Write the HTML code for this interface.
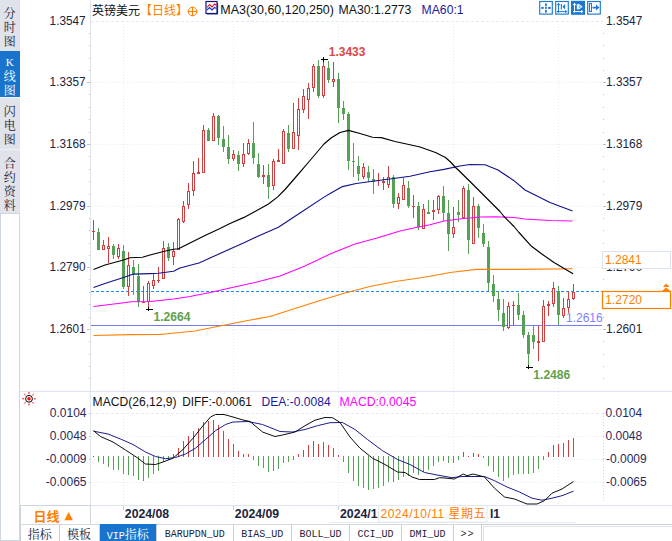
<!DOCTYPE html>
<html><head><meta charset="utf-8"><title>GBPUSD</title>
<style>
html,body{margin:0;padding:0;background:#fff;}
body{width:672px;height:541px;position:relative;overflow:hidden;font-family:"Liberation Sans","Noto Sans CJK SC",sans-serif;font-size:12px;color:#111;}
.abs{position:absolute;}
.side{position:absolute;left:0;width:20px;background:#e1e3ea;}
.sc{position:absolute;left:0;width:19.5px;text-align:center;font-family:"Liberation Serif","Noto Serif CJK SC",serif;font-size:12px;line-height:12px;height:12px;color:#1c2438;}
.tab{position:absolute;top:524px;height:17px;box-sizing:border-box;border-right:1px solid #c9ced8;border-top:1px solid #d5d9e0;text-align:center;line-height:22px;font-size:12px;color:#1c2438;font-family:"Liberation Mono","Noto Serif CJK SC",monospace;white-space:nowrap;overflow:hidden;}
.tab.m{font-size:10px;letter-spacing:0px;line-height:19px;}
</style></head><body>
<!-- sidebar -->
<div class="side" style="top:0;height:213px;"></div>
<div class="abs" style="left:0;top:213px;width:20px;height:328px;box-sizing:border-box;border:1px solid #cdd6e2;background:#fff;"></div>
<div class="abs" style="left:0;top:50.5px;width:20px;height:46px;background:#1874cd;"></div>
<div class="abs" style="left:0;top:149px;width:20px;height:1px;background:#f0f2f6;"></div>
<div class="abs" style="left:0;top:96.5px;width:20px;height:1px;background:#f0f2f6;"></div>
<div class="sc" style="top:8.3px;">分</div><div class="sc" style="top:21.8px;">时</div><div class="sc" style="top:35.6px;">图</div>
<div class="sc" style="top:56.3px;color:#fff;font-size:11px;">K</div><div class="sc" style="top:71.3px;color:#fff;">线</div><div class="sc" style="top:85.3px;color:#fff;">图</div>
<div class="sc" style="top:105.8px;">闪</div><div class="sc" style="top:120.1px;">电</div><div class="sc" style="top:133.9px;">图</div>
<div class="sc" style="top:158.1px;">合</div><div class="sc" style="top:172.1px;">约</div><div class="sc" style="top:186.0px;">资</div><div class="sc" style="top:199.7px;">料</div>

<!-- chart svg -->
<svg class="abs" style="left:0;top:0;" width="672" height="541" viewBox="0 0 672 541">
<line x1="91" y1="82.5" x2="603" y2="82.5" stroke="#e5ebf1" stroke-width="1" stroke-dasharray="1 2"/>
<line x1="91" y1="144.5" x2="603" y2="144.5" stroke="#e5ebf1" stroke-width="1" stroke-dasharray="1 2"/>
<line x1="91" y1="206.5" x2="603" y2="206.5" stroke="#e5ebf1" stroke-width="1" stroke-dasharray="1 2"/>
<line x1="91" y1="267.5" x2="603" y2="267.5" stroke="#e5ebf1" stroke-width="1" stroke-dasharray="1 2"/>
<line x1="91" y1="329.5" x2="603" y2="329.5" stroke="#e5ebf1" stroke-width="1" stroke-dasharray="1 2"/>
<line x1="91" y1="21.5" x2="603" y2="21.5" stroke="#e5ebf1" stroke-width="1" stroke-dasharray="3 2"/>
<line x1="123.5" y1="24" x2="123.5" y2="391" stroke="#e5ebf1" stroke-width="1" stroke-dasharray="1 2"/>
<line x1="123.5" y1="392" x2="123.5" y2="505" stroke="#e5ebf1" stroke-width="1" stroke-dasharray="1 2"/>
<line x1="123.5" y1="505" x2="123.5" y2="510" stroke="#c5cedb" stroke-width="1"/>
<line x1="233.5" y1="24" x2="233.5" y2="391" stroke="#e5ebf1" stroke-width="1" stroke-dasharray="1 2"/>
<line x1="233.5" y1="392" x2="233.5" y2="505" stroke="#e5ebf1" stroke-width="1" stroke-dasharray="1 2"/>
<line x1="233.5" y1="505" x2="233.5" y2="510" stroke="#c5cedb" stroke-width="1"/>
<line x1="338.5" y1="24" x2="338.5" y2="391" stroke="#e5ebf1" stroke-width="1" stroke-dasharray="1 2"/>
<line x1="338.5" y1="392" x2="338.5" y2="505" stroke="#e5ebf1" stroke-width="1" stroke-dasharray="1 2"/>
<line x1="338.5" y1="505" x2="338.5" y2="510" stroke="#c5cedb" stroke-width="1"/>
<line x1="453.5" y1="24" x2="453.5" y2="391" stroke="#e5ebf1" stroke-width="1" stroke-dasharray="1 2"/>
<line x1="453.5" y1="392" x2="453.5" y2="505" stroke="#e5ebf1" stroke-width="1" stroke-dasharray="1 2"/>
<line x1="453.5" y1="505" x2="453.5" y2="510" stroke="#c5cedb" stroke-width="1"/>
<line x1="558.5" y1="24" x2="558.5" y2="391" stroke="#e5ebf1" stroke-width="1" stroke-dasharray="1 2"/>
<line x1="558.5" y1="392" x2="558.5" y2="505" stroke="#e5ebf1" stroke-width="1" stroke-dasharray="1 2"/>
<line x1="91" y1="413.5" x2="603" y2="413.5" stroke="#e5ebf1" stroke-width="1" stroke-dasharray="3 2"/>
<line x1="91" y1="436.5" x2="603" y2="436.5" stroke="#e5ebf1" stroke-width="1" stroke-dasharray="1 2"/>
<line x1="91" y1="459.5" x2="603" y2="459.5" stroke="#e5ebf1" stroke-width="1" stroke-dasharray="1 2"/>
<line x1="91" y1="482.5" x2="603" y2="482.5" stroke="#e5ebf1" stroke-width="1" stroke-dasharray="1 2"/>
<line x1="90.5" y1="0" x2="90.5" y2="505" stroke="#dde4ee" stroke-width="1"/>
<line x1="603.5" y1="413" x2="603.5" y2="503" stroke="#cfd8e4" stroke-width="1" stroke-dasharray="1 2"/>
<line x1="20" y1="391.5" x2="672" y2="391.5" stroke="#dde4ee" stroke-width="1"/>
<line x1="20" y1="505.5" x2="672" y2="505.5" stroke="#dde4ee" stroke-width="1"/>
<line x1="330" y1="522.5" x2="576" y2="522.5" stroke="#e6ebf2" stroke-width="1"/>
<line x1="89" y1="33.5" x2="90" y2="33.5" stroke="#b8c2d0"/>
<line x1="603" y1="33.5" x2="604" y2="33.5" stroke="#b8c2d0"/>
<line x1="89" y1="45.5" x2="90" y2="45.5" stroke="#b8c2d0"/>
<line x1="603" y1="45.5" x2="604" y2="45.5" stroke="#b8c2d0"/>
<line x1="89" y1="58.5" x2="90" y2="58.5" stroke="#b8c2d0"/>
<line x1="603" y1="58.5" x2="604" y2="58.5" stroke="#b8c2d0"/>
<line x1="89" y1="70.5" x2="90" y2="70.5" stroke="#b8c2d0"/>
<line x1="603" y1="70.5" x2="604" y2="70.5" stroke="#b8c2d0"/>
<line x1="87" y1="82.5" x2="90" y2="82.5" stroke="#b8c2d0"/>
<line x1="603" y1="82.5" x2="606" y2="82.5" stroke="#b8c2d0"/>
<line x1="89" y1="94.5" x2="90" y2="94.5" stroke="#b8c2d0"/>
<line x1="603" y1="94.5" x2="604" y2="94.5" stroke="#b8c2d0"/>
<line x1="89" y1="107.5" x2="90" y2="107.5" stroke="#b8c2d0"/>
<line x1="603" y1="107.5" x2="604" y2="107.5" stroke="#b8c2d0"/>
<line x1="89" y1="119.5" x2="90" y2="119.5" stroke="#b8c2d0"/>
<line x1="603" y1="119.5" x2="604" y2="119.5" stroke="#b8c2d0"/>
<line x1="89" y1="132.5" x2="90" y2="132.5" stroke="#b8c2d0"/>
<line x1="603" y1="132.5" x2="604" y2="132.5" stroke="#b8c2d0"/>
<line x1="87" y1="144.5" x2="90" y2="144.5" stroke="#b8c2d0"/>
<line x1="603" y1="144.5" x2="606" y2="144.5" stroke="#b8c2d0"/>
<line x1="89" y1="156.5" x2="90" y2="156.5" stroke="#b8c2d0"/>
<line x1="603" y1="156.5" x2="604" y2="156.5" stroke="#b8c2d0"/>
<line x1="89" y1="169.5" x2="90" y2="169.5" stroke="#b8c2d0"/>
<line x1="603" y1="169.5" x2="604" y2="169.5" stroke="#b8c2d0"/>
<line x1="89" y1="181.5" x2="90" y2="181.5" stroke="#b8c2d0"/>
<line x1="603" y1="181.5" x2="604" y2="181.5" stroke="#b8c2d0"/>
<line x1="89" y1="194.5" x2="90" y2="194.5" stroke="#b8c2d0"/>
<line x1="603" y1="194.5" x2="604" y2="194.5" stroke="#b8c2d0"/>
<line x1="87" y1="206.5" x2="90" y2="206.5" stroke="#b8c2d0"/>
<line x1="603" y1="206.5" x2="606" y2="206.5" stroke="#b8c2d0"/>
<line x1="89" y1="218.5" x2="90" y2="218.5" stroke="#b8c2d0"/>
<line x1="603" y1="218.5" x2="604" y2="218.5" stroke="#b8c2d0"/>
<line x1="89" y1="230.5" x2="90" y2="230.5" stroke="#b8c2d0"/>
<line x1="603" y1="230.5" x2="604" y2="230.5" stroke="#b8c2d0"/>
<line x1="89" y1="243.5" x2="90" y2="243.5" stroke="#b8c2d0"/>
<line x1="603" y1="243.5" x2="604" y2="243.5" stroke="#b8c2d0"/>
<line x1="89" y1="255.5" x2="90" y2="255.5" stroke="#b8c2d0"/>
<line x1="603" y1="255.5" x2="604" y2="255.5" stroke="#b8c2d0"/>
<line x1="87" y1="267.5" x2="90" y2="267.5" stroke="#b8c2d0"/>
<line x1="603" y1="267.5" x2="606" y2="267.5" stroke="#b8c2d0"/>
<line x1="89" y1="279.5" x2="90" y2="279.5" stroke="#b8c2d0"/>
<line x1="603" y1="279.5" x2="604" y2="279.5" stroke="#b8c2d0"/>
<line x1="89" y1="292.5" x2="90" y2="292.5" stroke="#b8c2d0"/>
<line x1="603" y1="292.5" x2="604" y2="292.5" stroke="#b8c2d0"/>
<line x1="89" y1="304.5" x2="90" y2="304.5" stroke="#b8c2d0"/>
<line x1="603" y1="304.5" x2="604" y2="304.5" stroke="#b8c2d0"/>
<line x1="89" y1="317.5" x2="90" y2="317.5" stroke="#b8c2d0"/>
<line x1="603" y1="317.5" x2="604" y2="317.5" stroke="#b8c2d0"/>
<line x1="87" y1="329.5" x2="90" y2="329.5" stroke="#b8c2d0"/>
<line x1="603" y1="329.5" x2="606" y2="329.5" stroke="#b8c2d0"/>
<line x1="89" y1="341.5" x2="90" y2="341.5" stroke="#b8c2d0"/>
<line x1="603" y1="341.5" x2="604" y2="341.5" stroke="#b8c2d0"/>
<line x1="89" y1="354.5" x2="90" y2="354.5" stroke="#b8c2d0"/>
<line x1="603" y1="354.5" x2="604" y2="354.5" stroke="#b8c2d0"/>
<line x1="89" y1="366.5" x2="90" y2="366.5" stroke="#b8c2d0"/>
<line x1="603" y1="366.5" x2="604" y2="366.5" stroke="#b8c2d0"/>
<line x1="89" y1="378.5" x2="90" y2="378.5" stroke="#b8c2d0"/>
<line x1="603" y1="378.5" x2="604" y2="378.5" stroke="#b8c2d0"/>
<line x1="89" y1="413.5" x2="90" y2="413.5" stroke="#b8c2d0"/>
<line x1="603" y1="413.5" x2="604" y2="413.5" stroke="#b8c2d0"/>
<line x1="89" y1="436.5" x2="90" y2="436.5" stroke="#b8c2d0"/>
<line x1="603" y1="436.5" x2="604" y2="436.5" stroke="#b8c2d0"/>
<line x1="89" y1="459.5" x2="90" y2="459.5" stroke="#b8c2d0"/>
<line x1="603" y1="459.5" x2="604" y2="459.5" stroke="#b8c2d0"/>
<line x1="89" y1="482.5" x2="90" y2="482.5" stroke="#b8c2d0"/>
<line x1="603" y1="482.5" x2="604" y2="482.5" stroke="#b8c2d0"/>
<line x1="91" y1="325.5" x2="602" y2="325.5" stroke="#7878ff" stroke-width="1"/>
<line x1="91" y1="291.5" x2="602" y2="291.5" stroke="#1e8cff" stroke-width="1" stroke-dasharray="3 2"/>
<g shape-rendering="crispEdges">
<rect x="93" y="220" width="1" height="20" fill="#d04040"/>
<rect x="92" y="231" width="3" height="1" fill="#d04040"/>
<rect x="98" y="228" width="1" height="22" fill="#55a055"/>
<rect x="97" y="232" width="3" height="18" fill="#55a055"/>
<rect x="103" y="240" width="1" height="10" fill="#d04040"/>
<rect x="102" y="245" width="3" height="5" fill="#d04040"/>
<rect x="103" y="246" width="1" height="3" fill="#fff"/>
<rect x="108" y="237" width="1" height="26" fill="#d04040"/>
<rect x="107" y="246" width="3" height="3" fill="#d04040"/>
<rect x="108" y="247" width="1" height="1" fill="#fff"/>
<rect x="113" y="244" width="1" height="15" fill="#55a055"/>
<rect x="112" y="246" width="3" height="9" fill="#55a055"/>
<rect x="118" y="244" width="1" height="15" fill="#d04040"/>
<rect x="117" y="248" width="3" height="9" fill="#d04040"/>
<rect x="118" y="249" width="1" height="7" fill="#fff"/>
<rect x="123" y="245" width="1" height="44" fill="#55a055"/>
<rect x="122" y="251" width="3" height="36" fill="#55a055"/>
<rect x="128" y="252" width="1" height="44" fill="#d04040"/>
<rect x="127" y="265" width="3" height="22" fill="#d04040"/>
<rect x="128" y="266" width="1" height="20" fill="#fff"/>
<rect x="133" y="260" width="1" height="35" fill="#55a055"/>
<rect x="132" y="267" width="3" height="7" fill="#55a055"/>
<rect x="138" y="264" width="1" height="43" fill="#55a055"/>
<rect x="137" y="276" width="3" height="26" fill="#55a055"/>
<rect x="143" y="286" width="1" height="17" fill="#d04040"/>
<rect x="142" y="302" width="3" height="1" fill="#d04040"/>
<rect x="148" y="281" width="1" height="27" fill="#d04040"/>
<rect x="147" y="283" width="3" height="19" fill="#d04040"/>
<rect x="148" y="284" width="1" height="17" fill="#fff"/>
<rect x="153" y="274" width="1" height="15" fill="#d04040"/>
<rect x="152" y="280" width="3" height="6" fill="#d04040"/>
<rect x="153" y="281" width="1" height="4" fill="#fff"/>
<rect x="158" y="267" width="1" height="16" fill="#d04040"/>
<rect x="157" y="280" width="3" height="1" fill="#d04040"/>
<rect x="163" y="241" width="1" height="38" fill="#d04040"/>
<rect x="162" y="248" width="3" height="31" fill="#d04040"/>
<rect x="163" y="249" width="1" height="29" fill="#fff"/>
<rect x="168" y="243" width="1" height="18" fill="#55a055"/>
<rect x="167" y="247" width="3" height="11" fill="#55a055"/>
<rect x="173" y="242" width="1" height="23" fill="#d04040"/>
<rect x="172" y="251" width="3" height="6" fill="#d04040"/>
<rect x="173" y="252" width="1" height="4" fill="#fff"/>
<rect x="178" y="218" width="1" height="32" fill="#d04040"/>
<rect x="177" y="219" width="3" height="31" fill="#d04040"/>
<rect x="178" y="220" width="1" height="29" fill="#fff"/>
<rect x="183" y="201" width="1" height="22" fill="#d04040"/>
<rect x="182" y="206" width="3" height="16" fill="#d04040"/>
<rect x="183" y="207" width="1" height="14" fill="#fff"/>
<rect x="188" y="183" width="1" height="26" fill="#d04040"/>
<rect x="187" y="191" width="3" height="14" fill="#d04040"/>
<rect x="188" y="192" width="1" height="12" fill="#fff"/>
<rect x="193" y="161" width="1" height="35" fill="#d04040"/>
<rect x="192" y="173" width="3" height="18" fill="#d04040"/>
<rect x="193" y="174" width="1" height="16" fill="#fff"/>
<rect x="198" y="158" width="1" height="16" fill="#d04040"/>
<rect x="197" y="172" width="3" height="2" fill="#d04040"/>
<rect x="203" y="125" width="1" height="48" fill="#d04040"/>
<rect x="202" y="130" width="3" height="43" fill="#d04040"/>
<rect x="203" y="131" width="1" height="41" fill="#fff"/>
<rect x="208" y="128" width="1" height="13" fill="#55a055"/>
<rect x="207" y="130" width="3" height="11" fill="#55a055"/>
<rect x="213" y="113" width="1" height="28" fill="#d04040"/>
<rect x="212" y="116" width="3" height="25" fill="#d04040"/>
<rect x="213" y="117" width="1" height="23" fill="#fff"/>
<rect x="218" y="115" width="1" height="30" fill="#55a055"/>
<rect x="217" y="116" width="3" height="22" fill="#55a055"/>
<rect x="223" y="126" width="1" height="26" fill="#55a055"/>
<rect x="222" y="139" width="3" height="8" fill="#55a055"/>
<rect x="228" y="135" width="1" height="29" fill="#55a055"/>
<rect x="227" y="147" width="3" height="12" fill="#55a055"/>
<rect x="233" y="150" width="1" height="11" fill="#d04040"/>
<rect x="232" y="154" width="3" height="5" fill="#d04040"/>
<rect x="233" y="155" width="1" height="3" fill="#fff"/>
<rect x="238" y="151" width="1" height="20" fill="#55a055"/>
<rect x="237" y="155" width="3" height="9" fill="#55a055"/>
<rect x="243" y="143" width="1" height="24" fill="#d04040"/>
<rect x="242" y="154" width="3" height="10" fill="#d04040"/>
<rect x="243" y="155" width="1" height="8" fill="#fff"/>
<rect x="248" y="139" width="1" height="16" fill="#d04040"/>
<rect x="247" y="143" width="3" height="11" fill="#d04040"/>
<rect x="248" y="144" width="1" height="9" fill="#fff"/>
<rect x="253" y="122" width="1" height="42" fill="#55a055"/>
<rect x="252" y="143" width="3" height="15" fill="#55a055"/>
<rect x="258" y="153" width="1" height="25" fill="#55a055"/>
<rect x="257" y="164" width="3" height="13" fill="#55a055"/>
<rect x="263" y="165" width="1" height="19" fill="#d04040"/>
<rect x="262" y="175" width="3" height="2" fill="#d04040"/>
<rect x="268" y="164" width="1" height="35" fill="#55a055"/>
<rect x="267" y="175" width="3" height="12" fill="#55a055"/>
<rect x="273" y="159" width="1" height="31" fill="#d04040"/>
<rect x="272" y="161" width="3" height="25" fill="#d04040"/>
<rect x="273" y="162" width="1" height="23" fill="#fff"/>
<rect x="278" y="149" width="1" height="13" fill="#d04040"/>
<rect x="277" y="160" width="3" height="2" fill="#d04040"/>
<rect x="283" y="129" width="1" height="35" fill="#d04040"/>
<rect x="282" y="131" width="3" height="33" fill="#d04040"/>
<rect x="283" y="132" width="1" height="31" fill="#fff"/>
<rect x="288" y="125" width="1" height="27" fill="#55a055"/>
<rect x="287" y="133" width="3" height="16" fill="#55a055"/>
<rect x="293" y="103" width="1" height="46" fill="#d04040"/>
<rect x="292" y="132" width="3" height="17" fill="#d04040"/>
<rect x="293" y="133" width="1" height="15" fill="#fff"/>
<rect x="298" y="98" width="1" height="52" fill="#d04040"/>
<rect x="297" y="109" width="3" height="27" fill="#d04040"/>
<rect x="298" y="110" width="1" height="25" fill="#fff"/>
<rect x="303" y="89" width="1" height="24" fill="#d04040"/>
<rect x="302" y="96" width="3" height="14" fill="#d04040"/>
<rect x="303" y="97" width="1" height="12" fill="#fff"/>
<rect x="308" y="83" width="1" height="36" fill="#d04040"/>
<rect x="307" y="88" width="3" height="12" fill="#d04040"/>
<rect x="308" y="89" width="1" height="10" fill="#fff"/>
<rect x="313" y="64" width="1" height="28" fill="#d04040"/>
<rect x="312" y="66" width="3" height="22" fill="#d04040"/>
<rect x="313" y="67" width="1" height="20" fill="#fff"/>
<rect x="318" y="60" width="1" height="38" fill="#55a055"/>
<rect x="317" y="66" width="3" height="30" fill="#55a055"/>
<rect x="323" y="60" width="1" height="38" fill="#d04040"/>
<rect x="322" y="66" width="3" height="30" fill="#d04040"/>
<rect x="323" y="67" width="1" height="28" fill="#fff"/>
<rect x="328" y="61" width="1" height="22" fill="#55a055"/>
<rect x="327" y="68" width="3" height="12" fill="#55a055"/>
<rect x="333" y="62" width="1" height="25" fill="#d04040"/>
<rect x="332" y="79" width="3" height="3" fill="#d04040"/>
<rect x="333" y="80" width="1" height="1" fill="#fff"/>
<rect x="338" y="73" width="1" height="50" fill="#55a055"/>
<rect x="337" y="79" width="3" height="29" fill="#55a055"/>
<rect x="343" y="101" width="1" height="19" fill="#55a055"/>
<rect x="342" y="108" width="3" height="6" fill="#55a055"/>
<rect x="348" y="112" width="1" height="58" fill="#55a055"/>
<rect x="347" y="114" width="3" height="47" fill="#55a055"/>
<rect x="353" y="143" width="1" height="34" fill="#55a055"/>
<rect x="352" y="161" width="3" height="1" fill="#55a055"/>
<rect x="358" y="156" width="1" height="25" fill="#55a055"/>
<rect x="357" y="166" width="3" height="8" fill="#55a055"/>
<rect x="363" y="163" width="1" height="16" fill="#d04040"/>
<rect x="362" y="167" width="3" height="10" fill="#d04040"/>
<rect x="363" y="168" width="1" height="8" fill="#fff"/>
<rect x="368" y="166" width="1" height="16" fill="#55a055"/>
<rect x="367" y="172" width="3" height="6" fill="#55a055"/>
<rect x="373" y="169" width="1" height="25" fill="#55a055"/>
<rect x="372" y="179" width="3" height="3" fill="#55a055"/>
<rect x="378" y="173" width="1" height="13" fill="#d04040"/>
<rect x="377" y="180" width="3" height="1" fill="#d04040"/>
<rect x="383" y="177" width="1" height="13" fill="#d04040"/>
<rect x="382" y="181" width="3" height="2" fill="#d04040"/>
<rect x="388" y="166" width="1" height="22" fill="#d04040"/>
<rect x="387" y="177" width="3" height="8" fill="#d04040"/>
<rect x="388" y="178" width="1" height="6" fill="#fff"/>
<rect x="393" y="175" width="1" height="33" fill="#55a055"/>
<rect x="392" y="177" width="3" height="27" fill="#55a055"/>
<rect x="398" y="193" width="1" height="16" fill="#d04040"/>
<rect x="397" y="197" width="3" height="7" fill="#d04040"/>
<rect x="398" y="198" width="1" height="5" fill="#fff"/>
<rect x="403" y="178" width="1" height="22" fill="#d04040"/>
<rect x="402" y="185" width="3" height="15" fill="#d04040"/>
<rect x="403" y="186" width="1" height="13" fill="#fff"/>
<rect x="408" y="181" width="1" height="27" fill="#55a055"/>
<rect x="407" y="188" width="3" height="18" fill="#55a055"/>
<rect x="413" y="195" width="1" height="23" fill="#d04040"/>
<rect x="412" y="206" width="3" height="1" fill="#d04040"/>
<rect x="418" y="202" width="1" height="28" fill="#55a055"/>
<rect x="417" y="206" width="3" height="21" fill="#55a055"/>
<rect x="423" y="204" width="1" height="25" fill="#d04040"/>
<rect x="422" y="209" width="3" height="20" fill="#d04040"/>
<rect x="423" y="210" width="1" height="18" fill="#fff"/>
<rect x="428" y="200" width="1" height="14" fill="#55a055"/>
<rect x="427" y="212" width="3" height="2" fill="#55a055"/>
<rect x="433" y="200" width="1" height="20" fill="#d04040"/>
<rect x="432" y="210" width="3" height="2" fill="#d04040"/>
<rect x="438" y="195" width="1" height="19" fill="#d04040"/>
<rect x="437" y="196" width="3" height="14" fill="#d04040"/>
<rect x="438" y="197" width="1" height="12" fill="#fff"/>
<rect x="443" y="186" width="1" height="35" fill="#55a055"/>
<rect x="442" y="196" width="3" height="17" fill="#55a055"/>
<rect x="448" y="200" width="1" height="51" fill="#55a055"/>
<rect x="447" y="213" width="3" height="21" fill="#55a055"/>
<rect x="453" y="207" width="1" height="31" fill="#d04040"/>
<rect x="452" y="227" width="3" height="7" fill="#d04040"/>
<rect x="453" y="228" width="1" height="5" fill="#fff"/>
<rect x="458" y="200" width="1" height="22" fill="#55a055"/>
<rect x="457" y="212" width="3" height="3" fill="#55a055"/>
<rect x="463" y="186" width="1" height="32" fill="#d04040"/>
<rect x="462" y="188" width="3" height="30" fill="#d04040"/>
<rect x="463" y="189" width="1" height="28" fill="#fff"/>
<rect x="468" y="184" width="1" height="70" fill="#55a055"/>
<rect x="467" y="190" width="3" height="50" fill="#55a055"/>
<rect x="473" y="197" width="1" height="47" fill="#d04040"/>
<rect x="472" y="206" width="3" height="38" fill="#d04040"/>
<rect x="473" y="207" width="1" height="36" fill="#fff"/>
<rect x="478" y="204" width="1" height="34" fill="#55a055"/>
<rect x="477" y="206" width="3" height="22" fill="#55a055"/>
<rect x="483" y="224" width="1" height="23" fill="#55a055"/>
<rect x="482" y="233" width="3" height="11" fill="#55a055"/>
<rect x="488" y="241" width="1" height="50" fill="#55a055"/>
<rect x="487" y="247" width="3" height="36" fill="#55a055"/>
<rect x="493" y="275" width="1" height="27" fill="#55a055"/>
<rect x="492" y="284" width="3" height="12" fill="#55a055"/>
<rect x="498" y="291" width="1" height="30" fill="#55a055"/>
<rect x="497" y="299" width="3" height="11" fill="#55a055"/>
<rect x="503" y="299" width="1" height="32" fill="#55a055"/>
<rect x="502" y="313" width="3" height="14" fill="#55a055"/>
<rect x="508" y="302" width="1" height="27" fill="#d04040"/>
<rect x="507" y="306" width="3" height="22" fill="#d04040"/>
<rect x="508" y="307" width="1" height="20" fill="#fff"/>
<rect x="513" y="301" width="1" height="24" fill="#d04040"/>
<rect x="512" y="305" width="3" height="1" fill="#d04040"/>
<rect x="518" y="293" width="1" height="27" fill="#55a055"/>
<rect x="517" y="305" width="3" height="10" fill="#55a055"/>
<rect x="523" y="311" width="1" height="27" fill="#55a055"/>
<rect x="522" y="315" width="3" height="20" fill="#55a055"/>
<rect x="528" y="332" width="1" height="33" fill="#55a055"/>
<rect x="527" y="335" width="3" height="19" fill="#55a055"/>
<rect x="533" y="326" width="1" height="23" fill="#55a055"/>
<rect x="532" y="335" width="3" height="7" fill="#55a055"/>
<rect x="538" y="326" width="1" height="35" fill="#d04040"/>
<rect x="537" y="341" width="3" height="2" fill="#d04040"/>
<rect x="543" y="300" width="1" height="42" fill="#d04040"/>
<rect x="542" y="306" width="3" height="36" fill="#d04040"/>
<rect x="543" y="307" width="1" height="34" fill="#fff"/>
<rect x="548" y="301" width="1" height="15" fill="#d04040"/>
<rect x="547" y="304" width="3" height="2" fill="#d04040"/>
<rect x="553" y="282" width="1" height="25" fill="#d04040"/>
<rect x="552" y="288" width="3" height="16" fill="#d04040"/>
<rect x="553" y="289" width="1" height="14" fill="#fff"/>
<rect x="558" y="286" width="1" height="39" fill="#55a055"/>
<rect x="557" y="291" width="3" height="24" fill="#55a055"/>
<rect x="563" y="298" width="1" height="20" fill="#d04040"/>
<rect x="562" y="308" width="3" height="8" fill="#d04040"/>
<rect x="563" y="309" width="1" height="6" fill="#fff"/>
<rect x="568" y="291" width="1" height="22" fill="#d04040"/>
<rect x="567" y="299" width="3" height="9" fill="#d04040"/>
<rect x="568" y="300" width="1" height="7" fill="#fff"/>
<rect x="573" y="284" width="1" height="16" fill="#d04040"/>
<rect x="572" y="292" width="3" height="7" fill="#d04040"/>
<rect x="573" y="293" width="1" height="5" fill="#fff"/>
</g>
<polyline points="93.5,335.5 130.0,334.6 160.0,334.4 165.0,334.0 195.0,331.0 220.0,326.0 245.0,321.0 270.0,316.5 295.0,308.5 320.0,300.5 345.0,293.0 370.0,286.5 395.0,281.5 416.0,278.5 430.0,276.3 450.0,272.5 476.5,269.4 520.0,269.4 572.5,268.7" fill="none" stroke="#ff8000" stroke-width="1.15" stroke-linejoin="round"/>
<polyline points="93.5,306.5 120.0,303.3 131.5,301.7 150.4,301.5 173.5,299.0 190.0,296.5 210.0,292.5 230.0,288.0 255.0,282.5 280.0,276.0 305.0,266.0 330.0,254.0 355.0,244.0 377.0,238.0 400.0,231.0 416.0,227.5 430.0,224.7 444.0,221.0 463.5,218.4 480.3,216.9 495.0,216.8 514.0,217.5 525.0,219.0 550.0,220.5 572.5,221.0" fill="none" stroke="#ff00ff" stroke-width="1.05" stroke-linejoin="round"/>
<polyline points="93.5,287.6 106.4,283.0 123.5,277.5 133.5,274.1 150.0,273.6 158.5,273.2 173.5,271.2 180.0,268.0 195.0,264.0 199.0,263.0 210.0,258.0 230.0,249.0 244.0,242.8 255.0,237.5 278.4,227.3 300.0,213.0 324.0,197.1 331.0,193.0 342.4,186.6 356.2,183.5 380.0,180.3 393.5,178.5 410.0,176.3 430.0,171.8 444.0,169.4 460.0,166.0 470.0,164.5 485.0,164.7 498.0,170.0 514.0,180.7 525.0,190.0 550.0,202.5 572.5,211.0" fill="none" stroke="#10108c" stroke-width="1.1" stroke-linejoin="round"/>
<polyline points="93.5,269.5 105.0,265.0 123.5,260.0 130.0,257.7 142.5,257.3 150.0,255.0 163.5,251.5 173.5,249.2 178.5,248.8 190.0,243.0 205.0,235.5 220.0,228.5 230.0,223.5 244.0,217.4 255.0,211.5 268.5,204.0 277.7,196.9 285.0,189.5 295.0,178.0 310.0,160.5 324.0,144.0 331.0,138.0 340.0,132.5 348.5,130.4 360.0,133.5 372.5,137.2 381.3,137.6 395.0,141.5 410.0,144.7 420.0,147.0 435.5,152.5 445.5,157.5 450.5,162.0 455.5,167.5 458.3,170.0 470.0,181.5 480.0,191.5 490.0,201.5 500.0,211.5 504.0,216.5 514.0,226.5 519.0,232.5 531.5,246.3 541.5,253.8 554.0,262.5 573.0,273.8" fill="none" stroke="#000" stroke-width="1.15" stroke-linejoin="round"/>
<g shape-rendering="crispEdges" fill="#000">
<rect x="321" y="59" width="7" height="1"/><rect x="323" y="57" width="1" height="5"/>
<rect x="146" y="309" width="7" height="1"/><rect x="148" y="307" width="1" height="4"/>
<rect x="526" y="367" width="7" height="1"/><rect x="528" y="365" width="1" height="4"/>
</g>
<g shape-rendering="crispEdges">
<rect x="93" y="456" width="1" height="1" fill="#d04040"/>
<rect x="98" y="456" width="1" height="6" fill="#55a055"/>
<rect x="103" y="456" width="1" height="8" fill="#55a055"/>
<rect x="108" y="456" width="1" height="11" fill="#55a055"/>
<rect x="113" y="456" width="1" height="14" fill="#55a055"/>
<rect x="118" y="456" width="1" height="14" fill="#55a055"/>
<rect x="123" y="456" width="1" height="18" fill="#55a055"/>
<rect x="128" y="456" width="1" height="19" fill="#55a055"/>
<rect x="133" y="456" width="1" height="20" fill="#55a055"/>
<rect x="138" y="456" width="1" height="24" fill="#55a055"/>
<rect x="143" y="456" width="1" height="25" fill="#55a055"/>
<rect x="148" y="456" width="1" height="22" fill="#55a055"/>
<rect x="153" y="456" width="1" height="18" fill="#55a055"/>
<rect x="158" y="456" width="1" height="15" fill="#55a055"/>
<rect x="163" y="456" width="1" height="6" fill="#55a055"/>
<rect x="168" y="456" width="1" height="4" fill="#55a055"/>
<rect x="173" y="454" width="1" height="3" fill="#d04040"/>
<rect x="178" y="448" width="1" height="9" fill="#d04040"/>
<rect x="183" y="441" width="1" height="16" fill="#d04040"/>
<rect x="188" y="436" width="1" height="21" fill="#d04040"/>
<rect x="193" y="431" width="1" height="26" fill="#d04040"/>
<rect x="198" y="428" width="1" height="29" fill="#d04040"/>
<rect x="203" y="422" width="1" height="35" fill="#d04040"/>
<rect x="208" y="421" width="1" height="36" fill="#d04040"/>
<rect x="213" y="420" width="1" height="37" fill="#d04040"/>
<rect x="218" y="425" width="1" height="32" fill="#d04040"/>
<rect x="223" y="431" width="1" height="26" fill="#d04040"/>
<rect x="228" y="439" width="1" height="18" fill="#d04040"/>
<rect x="233" y="444" width="1" height="13" fill="#d04040"/>
<rect x="238" y="451" width="1" height="6" fill="#d04040"/>
<rect x="243" y="454" width="1" height="3" fill="#d04040"/>
<rect x="248" y="454" width="1" height="3" fill="#d04040"/>
<rect x="253" y="456" width="1" height="4" fill="#55a055"/>
<rect x="258" y="456" width="1" height="10" fill="#55a055"/>
<rect x="263" y="456" width="1" height="12" fill="#55a055"/>
<rect x="268" y="456" width="1" height="16" fill="#55a055"/>
<rect x="273" y="456" width="1" height="15" fill="#55a055"/>
<rect x="278" y="456" width="1" height="13" fill="#55a055"/>
<rect x="283" y="456" width="1" height="7" fill="#55a055"/>
<rect x="288" y="456" width="1" height="6" fill="#55a055"/>
<rect x="293" y="456" width="1" height="4" fill="#55a055"/>
<rect x="298" y="454" width="1" height="3" fill="#d04040"/>
<rect x="303" y="450" width="1" height="7" fill="#d04040"/>
<rect x="308" y="445" width="1" height="12" fill="#d04040"/>
<rect x="313" y="441" width="1" height="16" fill="#d04040"/>
<rect x="318" y="444" width="1" height="13" fill="#d04040"/>
<rect x="323" y="442" width="1" height="15" fill="#d04040"/>
<rect x="328" y="445" width="1" height="12" fill="#d04040"/>
<rect x="333" y="448" width="1" height="9" fill="#d04040"/>
<rect x="338" y="455" width="1" height="2" fill="#d04040"/>
<rect x="343" y="456" width="1" height="6" fill="#55a055"/>
<rect x="348" y="456" width="1" height="17" fill="#55a055"/>
<rect x="353" y="456" width="1" height="25" fill="#55a055"/>
<rect x="358" y="456" width="1" height="30" fill="#55a055"/>
<rect x="363" y="456" width="1" height="32" fill="#55a055"/>
<rect x="368" y="456" width="1" height="34" fill="#55a055"/>
<rect x="373" y="456" width="1" height="33" fill="#55a055"/>
<rect x="378" y="456" width="1" height="32" fill="#55a055"/>
<rect x="383" y="456" width="1" height="30" fill="#55a055"/>
<rect x="388" y="456" width="1" height="26" fill="#55a055"/>
<rect x="393" y="456" width="1" height="26" fill="#55a055"/>
<rect x="398" y="456" width="1" height="24" fill="#55a055"/>
<rect x="403" y="456" width="1" height="21" fill="#55a055"/>
<rect x="408" y="456" width="1" height="20" fill="#55a055"/>
<rect x="413" y="456" width="1" height="17" fill="#55a055"/>
<rect x="418" y="456" width="1" height="19" fill="#55a055"/>
<rect x="423" y="456" width="1" height="16" fill="#55a055"/>
<rect x="428" y="456" width="1" height="14" fill="#55a055"/>
<rect x="433" y="456" width="1" height="10" fill="#55a055"/>
<rect x="438" y="456" width="1" height="6" fill="#55a055"/>
<rect x="443" y="456" width="1" height="5" fill="#55a055"/>
<rect x="448" y="456" width="1" height="7" fill="#55a055"/>
<rect x="453" y="456" width="1" height="7" fill="#55a055"/>
<rect x="458" y="456" width="1" height="4" fill="#55a055"/>
<rect x="463" y="452" width="1" height="5" fill="#d04040"/>
<rect x="468" y="456" width="1" height="1" fill="#d04040"/>
<rect x="473" y="453" width="1" height="4" fill="#d04040"/>
<rect x="478" y="454" width="1" height="3" fill="#d04040"/>
<rect x="483" y="456" width="1" height="2" fill="#55a055"/>
<rect x="488" y="456" width="1" height="10" fill="#55a055"/>
<rect x="493" y="456" width="1" height="16" fill="#55a055"/>
<rect x="498" y="456" width="1" height="21" fill="#55a055"/>
<rect x="503" y="456" width="1" height="25" fill="#55a055"/>
<rect x="508" y="456" width="1" height="22" fill="#55a055"/>
<rect x="513" y="456" width="1" height="19" fill="#55a055"/>
<rect x="518" y="456" width="1" height="18" fill="#55a055"/>
<rect x="523" y="456" width="1" height="18" fill="#55a055"/>
<rect x="528" y="456" width="1" height="18" fill="#55a055"/>
<rect x="533" y="456" width="1" height="17" fill="#55a055"/>
<rect x="538" y="456" width="1" height="13" fill="#55a055"/>
<rect x="543" y="456" width="1" height="4" fill="#55a055"/>
<rect x="548" y="452" width="1" height="5" fill="#d04040"/>
<rect x="553" y="445" width="1" height="12" fill="#d04040"/>
<rect x="558" y="444" width="1" height="13" fill="#d04040"/>
<rect x="563" y="443" width="1" height="14" fill="#d04040"/>
<rect x="568" y="440" width="1" height="17" fill="#d04040"/>
<rect x="573" y="438" width="1" height="19" fill="#d04040"/>
</g>
<polyline points="93.5,431.2 108.0,434.0 120.5,439.0 133.0,444.5 145.5,452.0 155.5,456.5 165.5,458.7 175.5,457.5 185.5,454.0 195.5,448.2 205.5,439.5 215.5,430.7 225.5,424.5 233.0,422.0 248.0,421.5 262.5,424.5 280.0,431.5 292.5,432.0 305.0,429.5 317.5,425.7 330.0,422.7 342.5,422.5 355.0,429.5 367.5,439.5 382.5,450.7 397.5,459.5 410.0,464.5 424.5,472.5 437.0,475.0 452.0,477.7 462.0,476.5 484.5,476.5 494.5,480.7 507.0,487.0 519.5,492.0 532.0,498.2 542.0,500.2 552.0,498.2 562.0,495.7 573.5,491.2" fill="none" stroke="#10108c" stroke-width="0.95" stroke-linejoin="round"/>
<polyline points="93.5,430.7 100.5,436.5 113.0,442.0 125.5,450.0 138.0,458.2 145.5,464.0 155.5,464.5 163.0,462.0 173.0,458.2 183.0,449.5 193.0,438.2 203.0,425.7 210.5,417.0 215.5,414.5 224.0,414.5 233.0,417.0 243.0,420.0 250.0,421.5 262.5,432.0 275.0,436.5 282.5,435.0 295.0,432.0 305.0,425.7 315.0,420.2 325.0,417.5 332.5,417.7 340.0,422.5 350.0,437.0 360.0,448.2 372.5,458.2 385.0,464.5 397.5,472.0 405.0,472.5 412.0,477.0 419.5,479.5 434.5,479.5 439.5,477.7 447.0,478.2 454.5,479.0 463.2,474.0 467.0,475.7 473.2,474.0 484.5,477.0 494.5,488.2 504.5,497.0 514.5,499.0 527.0,504.0 537.0,504.0 544.5,500.7 552.0,493.2 562.0,489.0 573.5,481.5" fill="none" stroke="#000" stroke-width="0.95" stroke-linejoin="round"/>
<text x="49.6" y="25.2" fill="#1d2340" text-anchor="start" font-weight="normal" font-size="12" font-family="'Liberation Sans', 'Noto Sans CJK SC', sans-serif"  textLength="36.0" lengthAdjust="spacingAndGlyphs">1.3547</text>
<text x="606.0" y="25.2" fill="#1d2340" text-anchor="start" font-weight="normal" font-size="12" font-family="'Liberation Sans', 'Noto Sans CJK SC', sans-serif"  textLength="36.3" lengthAdjust="spacingAndGlyphs">1.3547</text>
<text x="49.6" y="85.9" fill="#1d2340" text-anchor="start" font-weight="normal" font-size="12" font-family="'Liberation Sans', 'Noto Sans CJK SC', sans-serif"  textLength="36.0" lengthAdjust="spacingAndGlyphs">1.3357</text>
<text x="606.0" y="85.9" fill="#1d2340" text-anchor="start" font-weight="normal" font-size="12" font-family="'Liberation Sans', 'Noto Sans CJK SC', sans-serif"  textLength="36.3" lengthAdjust="spacingAndGlyphs">1.3357</text>
<text x="49.6" y="148.2" fill="#1d2340" text-anchor="start" font-weight="normal" font-size="12" font-family="'Liberation Sans', 'Noto Sans CJK SC', sans-serif"  textLength="36.0" lengthAdjust="spacingAndGlyphs">1.3168</text>
<text x="606.0" y="148.2" fill="#1d2340" text-anchor="start" font-weight="normal" font-size="12" font-family="'Liberation Sans', 'Noto Sans CJK SC', sans-serif"  textLength="36.3" lengthAdjust="spacingAndGlyphs">1.3168</text>
<text x="49.6" y="209.7" fill="#1d2340" text-anchor="start" font-weight="normal" font-size="12" font-family="'Liberation Sans', 'Noto Sans CJK SC', sans-serif"  textLength="36.0" lengthAdjust="spacingAndGlyphs">1.2979</text>
<text x="606.0" y="209.7" fill="#1d2340" text-anchor="start" font-weight="normal" font-size="12" font-family="'Liberation Sans', 'Noto Sans CJK SC', sans-serif"  textLength="36.3" lengthAdjust="spacingAndGlyphs">1.2979</text>
<text x="49.6" y="270.9" fill="#1d2340" text-anchor="start" font-weight="normal" font-size="12" font-family="'Liberation Sans', 'Noto Sans CJK SC', sans-serif"  textLength="36.0" lengthAdjust="spacingAndGlyphs">1.2790</text>
<text x="606.0" y="270.9" fill="#1d2340" text-anchor="start" font-weight="normal" font-size="12" font-family="'Liberation Sans', 'Noto Sans CJK SC', sans-serif"  textLength="36.3" lengthAdjust="spacingAndGlyphs">1.2790</text>
<text x="49.6" y="332.6" fill="#1d2340" text-anchor="start" font-weight="normal" font-size="12" font-family="'Liberation Sans', 'Noto Sans CJK SC', sans-serif"  textLength="36.0" lengthAdjust="spacingAndGlyphs">1.2601</text>
<text x="606.0" y="332.6" fill="#1d2340" text-anchor="start" font-weight="normal" font-size="12" font-family="'Liberation Sans', 'Noto Sans CJK SC', sans-serif"  textLength="36.3" lengthAdjust="spacingAndGlyphs">1.2601</text>
<text x="86.5" y="417.0" fill="#2a2a5a" text-anchor="end" font-weight="normal" font-size="12" font-family="'Liberation Sans', 'Noto Sans CJK SC', sans-serif" >0.0104</text>
<text x="605.5" y="417.0" fill="#2a2a5a" text-anchor="start" font-weight="normal" font-size="12" font-family="'Liberation Sans', 'Noto Sans CJK SC', sans-serif" >0.0104</text>
<text x="86.5" y="440.3" fill="#2a2a5a" text-anchor="end" font-weight="normal" font-size="12" font-family="'Liberation Sans', 'Noto Sans CJK SC', sans-serif" >0.0048</text>
<text x="605.5" y="440.3" fill="#2a2a5a" text-anchor="start" font-weight="normal" font-size="12" font-family="'Liberation Sans', 'Noto Sans CJK SC', sans-serif" >0.0048</text>
<text x="86.5" y="462.8" fill="#2a2a5a" text-anchor="end" font-weight="normal" font-size="12" font-family="'Liberation Sans', 'Noto Sans CJK SC', sans-serif" >-0.0009</text>
<text x="606.0" y="462.8" fill="#2a2a5a" text-anchor="start" font-weight="normal" font-size="12" font-family="'Liberation Sans', 'Noto Sans CJK SC', sans-serif" >-0.0009</text>
<text x="86.5" y="485.8" fill="#2a2a5a" text-anchor="end" font-weight="normal" font-size="12" font-family="'Liberation Sans', 'Noto Sans CJK SC', sans-serif" >-0.0065</text>
<text x="606.0" y="485.8" fill="#2a2a5a" text-anchor="start" font-weight="normal" font-size="12" font-family="'Liberation Sans', 'Noto Sans CJK SC', sans-serif" >-0.0065</text>
<text x="220.3" y="13.6" fill="#111" text-anchor="start" font-weight="normal" font-size="12.3" font-family="'Liberation Sans', 'Noto Sans CJK SC', sans-serif"  textLength="113.6" lengthAdjust="spacingAndGlyphs">MA3(30,60,120,250)</text>
<text x="338.6" y="13.6" fill="#111" text-anchor="start" font-weight="normal" font-size="12.3" font-family="'Liberation Sans', 'Noto Sans CJK SC', sans-serif"  textLength="72.8" lengthAdjust="spacingAndGlyphs">MA30:1.2773</text>
<text x="421.6" y="13.6" fill="#1a1a9c" text-anchor="start" font-weight="normal" font-size="12.3" font-family="'Liberation Sans', 'Noto Sans CJK SC', sans-serif"  textLength="42.0" lengthAdjust="spacingAndGlyphs">MA60:1</text>
<text x="92.6" y="405.8" fill="#111" text-anchor="start" font-weight="normal" font-size="12.3" font-family="'Liberation Sans', 'Noto Sans CJK SC', sans-serif"  textLength="84.0" lengthAdjust="spacingAndGlyphs">MACD(26,12,9)</text>
<text x="182.2" y="405.8" fill="#111" text-anchor="start" font-weight="normal" font-size="12.3" font-family="'Liberation Sans', 'Noto Sans CJK SC', sans-serif"  textLength="69.6" lengthAdjust="spacingAndGlyphs">DIFF:-0.0061</text>
<text x="261.6" y="405.8" fill="#1a1a9c" text-anchor="start" font-weight="normal" font-size="12.3" font-family="'Liberation Sans', 'Noto Sans CJK SC', sans-serif"  textLength="69.0" lengthAdjust="spacingAndGlyphs">DEA:-0.0084</text>
<text x="339.6" y="405.8" fill="#ff00ff" text-anchor="start" font-weight="normal" font-size="12.3" font-family="'Liberation Sans', 'Noto Sans CJK SC', sans-serif"  textLength="76.6" lengthAdjust="spacingAndGlyphs">MACD:0.0045</text>
<text x="328.7" y="56.0" fill="#e04545" text-anchor="start" font-weight="bold" font-size="12" font-family="'Liberation Sans', 'Noto Sans CJK SC', sans-serif"  textLength="36.8" lengthAdjust="spacingAndGlyphs">1.3433</text>
<text x="153.5" y="320.7" fill="#62a04c" text-anchor="start" font-weight="bold" font-size="12" font-family="'Liberation Sans', 'Noto Sans CJK SC', sans-serif"  textLength="37.0" lengthAdjust="spacingAndGlyphs">1.2664</text>
<text x="533.3" y="378.6" fill="#62a04c" text-anchor="start" font-weight="bold" font-size="12" font-family="'Liberation Sans', 'Noto Sans CJK SC', sans-serif"  textLength="37.0" lengthAdjust="spacingAndGlyphs">1.2486</text>
<text x="566.0" y="321.9" fill="#8080ff" text-anchor="start" font-weight="normal" font-size="12" font-family="'Liberation Sans', 'Noto Sans CJK SC', sans-serif" >1.2616</text>
<text x="124.8" y="517.5" fill="#1d2340" text-anchor="start" font-weight="bold" font-size="12" font-family="'Liberation Sans', 'Noto Sans CJK SC', sans-serif"  textLength="44.4" lengthAdjust="spacingAndGlyphs">2024/08</text>
<text x="234.8" y="517.5" fill="#1d2340" text-anchor="start" font-weight="bold" font-size="12" font-family="'Liberation Sans', 'Noto Sans CJK SC', sans-serif"  textLength="44.4" lengthAdjust="spacingAndGlyphs">2024/09</text>
<text x="340.0" y="517.5" fill="#1d2340" text-anchor="start" font-weight="bold" font-size="12" font-family="'Liberation Sans', 'Noto Sans CJK SC', sans-serif"  textLength="37.6" lengthAdjust="spacingAndGlyphs">2024/1</text>
<text x="490.0" y="517.5" fill="#1d2340" text-anchor="start" font-weight="bold" font-size="12" font-family="'Liberation Sans', 'Noto Sans CJK SC', sans-serif" >I1</text>
<!-- title icons -->
<g fill="none" stroke="#ff8000" stroke-width="1"><circle cx="192.5" cy="11.5" r="4.3"/><path d="M188 11.5h9M192.5 7v9"/></g>
<g><rect x="206" y="1.5" width="11" height="12" fill="#fff" stroke="#15157a" stroke-width="1.2"/><path d="M207 13.9h11M217.6 3v11" stroke="#15157a" stroke-width="1" fill="none"/>
<polyline points="207,7.5 209.5,4.5 212,7 214.5,4 216.5,5.5" fill="none" stroke="#f01010" stroke-width="1.1"/>
<polyline points="207,10 209.5,7.5 212,10 214.5,7.5 216.5,8.5" fill="none" stroke="#1030e0" stroke-width="1.1"/></g>
<!-- toolbar icons -->
<g>
<rect x="539.7" y="1.5" width="12.6" height="12.6" fill="#fff" stroke="#1a78d2" stroke-width="1.15"/>
<rect x="555.7" y="1.5" width="12.6" height="12.6" fill="#fff" stroke="#1a78d2" stroke-width="1.15"/>
<rect x="571" y="0.8" width="14" height="14" fill="#1a78d2"/>
<rect x="587.7" y="1.5" width="12.6" height="12.6" fill="#fff" stroke="#1a78d2" stroke-width="1.15"/>
<g fill="#1a78d2">
<rect x="545" y="3.5" width="1.8" height="2.6"/><rect x="545" y="6.9" width="1.8" height="2"/><rect x="545" y="9.9" width="1.8" height="2.7"/><rect x="541.3" y="6.9" width="2.4" height="2"/><rect x="548.1" y="6.9" width="2.6" height="2"/>
<rect x="558" y="3.3" width="1" height="9.2"/><polygon points="556.6,5.2 558.5,2.8 560.4,5.2"/><rect x="557" y="11.1" width="9.5" height="1"/><polygon points="565.2,9.8 567.3,11.6 565.2,13.4"/><polygon points="558.4,10.2 556.6,11.6 558.4,13"/>
<rect x="560.8" y="4" width="1.1" height="5.4"/><polygon points="562.4,6.7 565.2,4 565.2,9.4"/>
<rect x="592.5" y="6.8" width="4" height="1.7"/><polygon points="596,4.6 599.4,7.6 596,10.6"/>
</g>
<rect x="589.5" y="3.5" width="2" height="8" fill="none" stroke="#1a78d2" stroke-width="1" shape-rendering="crispEdges"/>
<g fill="#fff">
<rect x="574" y="3.3" width="1" height="9.2"/><polygon points="572.6,5.2 574.5,2.8 576.4,5.2"/><rect x="573" y="11.1" width="9.5" height="1"/><polygon points="581.2,9.8 583.3,11.6 581.2,13.4"/>
<rect x="576.8" y="4" width="1.1" height="5.4"/></g>
<polygon points="578.6,4.2 582.2,6.7 578.6,9.2" fill="#8fbdea" stroke="#fff" stroke-width="0.9"/>
</g>
<!-- macd sun icon -->
<g><circle cx="29" cy="398.8" r="3.4" fill="#fff" stroke="#000" stroke-width="1"/><circle cx="29" cy="398.8" r="1.7" fill="#ff0000"/>
<g stroke="#ff0000" stroke-width="1">
<path d="M29 392v2M29 403.5v2M22.2 398.8h2M33.8 398.8h2M24.2 394l1.4 1.4M32.4 402.2l1.4 1.4M24.2 403.6l1.4-1.4M32.4 395.4l1.4-1.4"/></g></g>
<!-- right label boxes -->
<rect x="602.5" y="251.5" width="68" height="17" fill="#fff" stroke="#dde3ee"/>
<text x="605" y="264" fill="#ff8000" font-size="12" font-family="'Liberation Sans', sans-serif">1.2841</text>
<rect x="602.5" y="291.5" width="68" height="17" fill="#fff" stroke="#ff8000" stroke-width="1.2"/>
<text x="605.3" y="304" fill="#ff8000" font-size="12" font-family="'Liberation Sans', sans-serif">1.2720</text>
<polygon points="662,291 666,287.5 670.5,291" fill="#ff8000"/><polygon points="663,287 666,283.5 669.5,287" fill="#ff8000"/>
<!-- date box -->
<rect x="378.5" y="505.5" width="108.5" height="16.5" fill="#fff" stroke="#e3e8f0"/>
<text x="380.5" y="517.5" fill="#ff8000" font-size="12" font-family="'Liberation Sans','Noto Sans CJK SC', sans-serif" textLength="105" lengthAdjust="spacing">2024/10/11 星期五</text>
</svg>

<!-- title -->
<div class="abs" style="left:92px;top:1.9px;height:18px;line-height:18px;font-size:12px;white-space:nowrap;color:#111;font-family:'Liberation Sans','Noto Sans CJK SC',sans-serif;">英镑美元<span style="color:#ff8000;">【日线】</span></div>

<!-- period box -->
<div class="abs" style="left:20px;top:505px;width:70.5px;height:20px;box-sizing:border-box;border:1px solid #cdd5e0;background:#fff;"></div>
<div class="abs" style="left:33.5px;top:508px;width:60px;height:18px;line-height:18px;font-size:13px;font-weight:bold;color:#ff8000;white-space:nowrap;">日线</div>
<div class="abs" style="left:64.5px;top:506.6px;height:18px;line-height:18px;font-size:11px;color:#ff8000;font-family:'DejaVu Sans',sans-serif;">▲</div>

<!-- bottom tabs -->
<div class="tab" style="left:20px;width:39.5px;border-left:1px solid #c9ced8;">指标</div>
<div class="tab" style="left:59.5px;width:40px;">模板</div>
<div class="tab" style="left:99.5px;width:57.5px;background:#1874cd;color:#fff;border-top-color:#1874cd;"><span style="font-size:10px;">VIP</span>指标</div>
<div class="tab m" style="left:157px;width:76.5px;">BARUPDN_UD</div>
<div class="tab m" style="left:233.5px;width:58.5px;">BIAS_UD</div>
<div class="tab m" style="left:292px;width:58px;">BOLL_UD</div>
<div class="tab m" style="left:350px;width:52px;">CCI_UD</div>
<div class="tab m" style="left:402px;width:52px;">DMI_UD</div>
<div class="tab m" style="left:454px;width:28px;letter-spacing:1px;color:#333;">&gt;&gt;</div>
<div class="abs" style="left:482px;top:524px;width:190px;height:17px;box-sizing:border-box;border-top:1px solid #c9ced8;background:#fff;"></div>
<div class="abs" style="left:483px;top:526px;width:189px;height:15px;box-sizing:border-box;border:1px solid #dfe3ea;border-right:none;border-bottom:none;background:#fff;"></div>
</body></html>
